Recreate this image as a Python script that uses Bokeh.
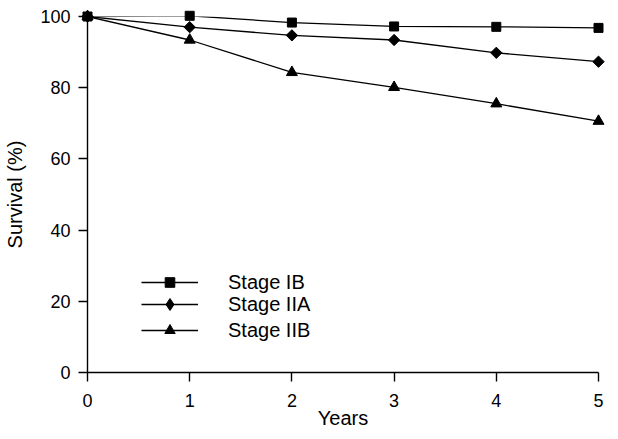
import math
from bokeh.plotting import figure
from bokeh.models import Legend, LegendItem, Range1d, FixedTicker
from bokeh.embed import file_html
from bokeh.resources import INLINE

years = [0, 1, 2, 3, 4, 5]
stage_ib = [100, 100.2, 98.3, 97.2, 97.1, 96.8]
stage_iia = [100, 97.0, 94.7, 93.4, 89.8, 87.3]
stage_iib = [100, 93.4, 84.3, 80.1, 75.5, 70.6]
series_names = ["Stage IB", "Stage IIA", "Stage IIB"]
x_ticks = [0, 1, 2, 3, 4, 5]
y_ticks = [0, 20, 40, 60, 80, 100]

FONT = "Liberation Sans"

p = figure(width=610, height=431, output_backend="svg", toolbar_location=None,
           x_range=Range1d(0, 5), y_range=Range1d(0, 100),
           min_border_left=87, min_border_right=12, min_border_top=16, min_border_bottom=59)
p.outline_line_color = None
p.grid.visible = False
p.background_fill_color = "white"

for ax in (p.xaxis[0], p.yaxis[0]):
    ax.axis_line_color = "black"
    ax.axis_line_width = 1.4
    ax.major_tick_line_color = "black"
    ax.major_tick_line_width = 1.4
    ax.major_tick_out = 9
    ax.major_tick_in = 0
    ax.minor_tick_line_color = None
    ax.major_label_text_font = FONT
    ax.major_label_text_font_size = "18px"
    ax.major_label_text_color = "black"
    ax.axis_label_text_font = FONT
    ax.axis_label_text_font_size = "20px"
    ax.axis_label_text_font_style = "normal"
    ax.axis_label_text_color = "black"

p.xaxis.ticker = FixedTicker(ticks=x_ticks)
p.yaxis.ticker = FixedTicker(ticks=y_ticks)
p.xaxis.axis_label = "Years"
p.yaxis.axis_label = "Survival (%)"
p.xaxis.major_label_standoff = 12
p.yaxis.major_label_standoff = 8
p.xaxis.axis_label_standoff = -3
p.yaxis.axis_label_standoff = 11

# (values, plot marker, plot size, plot angle, legend marker, legend glyph height, legend y)
specs = [
    (stage_ib, "square", 9, 0.0, "square", 24, 78),
    (stage_iia, "square", 8, math.pi / 4, "diamond", 30, 53),
    (stage_iib, "triangle", 11, 0.0, "triangle", 26, 29),
]
for name, (vals, marker, size, ang, lmarker, gh, ly) in zip(series_names, specs):
    ln = p.line(years, vals, line_color="black", line_width=1.3)
    sc = p.scatter(years, vals, marker=marker, size=size, angle=ang,
                   fill_color="black", line_color="black", level="overlay")
    if lmarker == marker and ang == 0.0:
        key = sc
    else:
        key = p.scatter(years, vals, marker=lmarker, size=size,
                        fill_color="black", line_color="black", visible=False)
    legend = Legend(items=[LegendItem(label=name, renderers=[ln, key])],
                    location=(54, ly), orientation="vertical",
                    glyph_width=57, glyph_height=gh, spacing=0, label_standoff=30,
                    padding=0, margin=0, border_line_color=None,
                    background_fill_alpha=0, label_text_font=FONT,
                    label_text_font_size="20px", label_text_color="black")
    p.add_layout(legend, "center")

open("out.html", "w").write(file_html(p, INLINE))
